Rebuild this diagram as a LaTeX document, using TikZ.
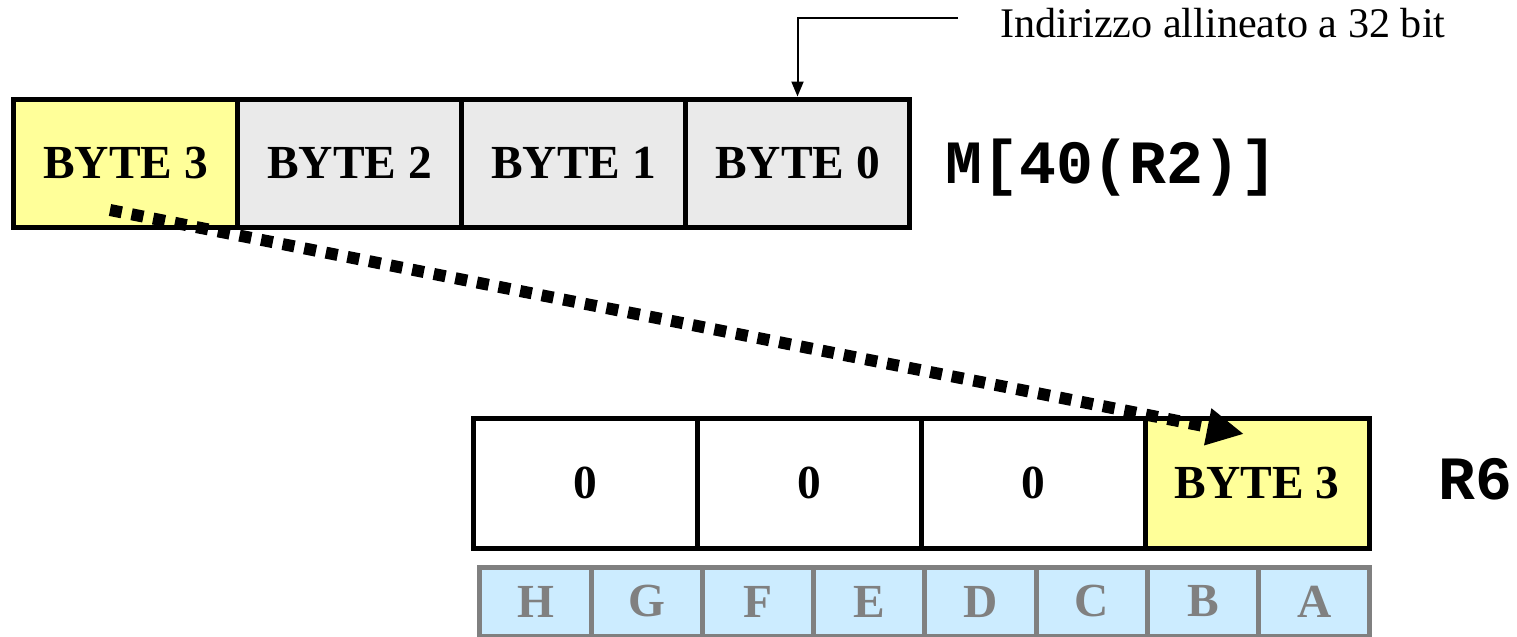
\documentclass[tikz,border=0pt]{standalone}
\usepackage{fontspec}
\setmainfont{Liberation Serif}
\setmonofont{Liberation Mono}
\definecolor{byteyellow}{RGB}{255, 255, 153}
\definecolor{bytegray}{RGB}{234, 234, 234}
\definecolor{bitblue}{RGB}{204, 236, 255}
\definecolor{bitgray}{RGB}{128, 128, 128}
\usetikzlibrary{arrows.meta, positioning}

\begin{document}
\begin{tikzpicture}[
  bytebox/.style={draw, line width=0.1cm, outer sep=0pt, minimum width=4.48cm, minimum height=2.56cm, font=\fontsize{27}{30}\selectfont\bfseries},
  bitbox/.style={draw=bitgray, fill=bitblue, line width=0.1cm, outer sep=0pt, minimum width=2.225cm, minimum height=1.38cm, text=bitgray, font=\fontsize{27}{30}\selectfont\bfseries},
  reglabel/.style={anchor=base west, inner sep=0pt, font=\fontsize{35}{40}\selectfont\ttfamily\bfseries}
]
  \useasboundingbox (0,0) rectangle (30.34,-12.72);

  % Memory word
  \node[bytebox, fill=byteyellow] (m3) at (2.51,-3.26) {BYTE 3};
  \node[bytebox, fill=bytegray, right=0pt of m3] (m2) {BYTE 2};
  \node[bytebox, fill=bytegray, right=0pt of m2] (m1) {BYTE 1};
  \node[bytebox, fill=bytegray, right=0pt of m1] (m0) {BYTE 0};
  \node[reglabel] (mem) at (18.9,-3.66) {M[40(R2)]};

  % Aligned address
  \node[anchor=base west, inner sep=0pt, font=\fontsize{24}{28}\selectfont] (addr) at (20,-0.74) {Indirizzo allineato a 32 bit};
  \draw[line width=0.04cm, -{Triangle[length=0.3cm, width=0.24cm]}] ([xshift=-0.84cm, yshift=0.1cm]addr.west) -| ([yshift=0.05cm]m0.north);

  % Register R6
  \node[bytebox, minimum height=2.6cm] (r3) at (11.7,-9.66) {0};
  \node[bytebox, minimum height=2.6cm, right=0pt of r3] (r2) {0};
  \node[bytebox, minimum height=2.6cm, right=0pt of r2] (r1) {0};
  \node[bytebox, minimum height=2.6cm, fill=byteyellow, right=0pt of r1] (r0) {BYTE 3};
  \node[reglabel] (reg) at (28.76,-9.98) {R6};

  % Byte lanes
  \node[bitbox] (lh) at (10.71,-12.03) {H};
  \node[bitbox, right=0pt of lh] (lg) {G};
  \node[bitbox, right=0pt of lg] (lf) {F};
  \node[bitbox, right=0pt of lf] (le) {E};
  \node[bitbox, right=0pt of le] (ld) {D};
  \node[bitbox, right=0pt of ld] (lc) {C};
  \node[bitbox, right=0pt of lc] (lb) {B};
  \node[bitbox, right=0pt of lb] (la) {A};

  % Byte move
  \coordinate (src) at ([shift={(-0.31,0.34)}]m3.south);
  \coordinate (dst) at ([shift={(-0.26,-0.32)}]r0.north);
  \draw[line width=0.24cm, dash pattern=on 0.24cm off 0.2cm, -{Triangle[length=0.74cm, width=0.7cm]}] (src) -- (dst);
\end{tikzpicture}
\end{document}
